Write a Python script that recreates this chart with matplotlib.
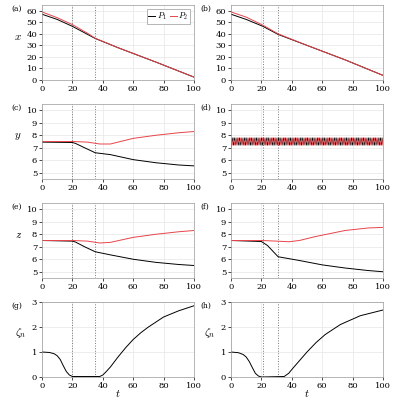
import matplotlib
matplotlib.use("Agg")
import matplotlib.pyplot as plt

plt.rcParams['font.family'] = 'DejaVu Serif'
plt.rcParams['mathtext.fontset'] = 'cm'
plt.rcParams['font.size'] = 6

# Panel (a)
ta = [0, 10, 20, 30, 35, 50, 75, 100]
xa1 = [57, 52.5, 46.5, 39.5, 36, 28, 15.5, 2.5]
xa2 = [59, 54, 48, 40.5, 36.2, 28, 15.5, 2.5]
# Panel (b)
tb = [0, 10, 21, 31, 50, 75, 100]
xb1 = [57, 52.5, 46.5, 39.5, 30, 17.5, 4]
xb2 = [59, 54.5, 47.5, 40, 30, 17.5, 4]
# Panel (c)
tc = [0, 20, 22, 28, 35, 45, 60, 75, 90, 100]
yc1 = [7.45, 7.42, 7.35, 7.0, 6.6, 6.45, 6.05, 5.8, 5.62, 5.55]
tc2 = [0, 20, 30, 38, 45, 60, 75, 90, 100]
yc2 = [7.5, 7.5, 7.45, 7.3, 7.3, 7.75, 8.0, 8.2, 8.3]
# Panel (d): oscillating
td = [i * 0.8 for i in range(126)]
yd1 = [7.0, 7.8, 7.2, 7.8, 7.2, 7.8, 7.2, 7.8, 7.2, 7.8, 7.2, 7.8, 7.2, 7.8, 7.2, 7.8,
       7.2, 7.8, 7.2, 7.8, 7.2, 7.8, 7.2, 7.8, 7.2, 7.8, 7.2, 7.8, 7.2, 7.8, 7.2, 7.8,
       7.2, 7.8, 7.2, 7.8, 7.2, 7.8, 7.2, 7.8, 7.2, 7.8, 7.2, 7.8, 7.2, 7.8, 7.2, 7.8,
       7.2, 7.8, 7.2, 7.8, 7.2, 7.8, 7.2, 7.8, 7.2, 7.8, 7.2, 7.8, 7.2, 7.8, 7.2, 7.8,
       7.2, 7.8, 7.2, 7.8, 7.2, 7.8, 7.2, 7.8, 7.2, 7.8, 7.2, 7.8, 7.2, 7.8, 7.2, 7.8,
       7.2, 7.8, 7.2, 7.8, 7.2, 7.8, 7.2, 7.8, 7.2, 7.8, 7.2, 7.8, 7.2, 7.8, 7.2, 7.8,
       7.2, 7.8, 7.2, 7.8, 7.2, 7.8, 7.2, 7.8, 7.2, 7.8, 7.2, 7.8, 7.2, 7.8, 7.2, 7.8,
       7.2, 7.8, 7.2, 7.8, 7.2, 7.8, 7.2, 7.8, 7.2, 7.8, 7.2, 7.8, 7.2, 7.8]
yd2 = [7.5, 7.2, 7.8, 7.2, 7.8, 7.2, 7.8, 7.2, 7.8, 7.2, 7.8, 7.2, 7.8, 7.2, 7.8, 7.2,
       7.8, 7.2, 7.8, 7.2, 7.8, 7.2, 7.8, 7.2, 7.8, 7.2, 7.8, 7.2, 7.8, 7.2, 7.8, 7.2,
       7.8, 7.2, 7.8, 7.2, 7.8, 7.2, 7.8, 7.2, 7.8, 7.2, 7.8, 7.2, 7.8, 7.2, 7.8, 7.2,
       7.8, 7.2, 7.8, 7.2, 7.8, 7.2, 7.8, 7.2, 7.8, 7.2, 7.8, 7.2, 7.8, 7.2, 7.8, 7.2,
       7.8, 7.2, 7.8, 7.2, 7.8, 7.2, 7.8, 7.2, 7.8, 7.2, 7.8, 7.2, 7.8, 7.2, 7.8, 7.2,
       7.8, 7.2, 7.8, 7.2, 7.8, 7.2, 7.8, 7.2, 7.8, 7.2, 7.8, 7.2, 7.8, 7.2, 7.8, 7.2,
       7.8, 7.2, 7.8, 7.2, 7.8, 7.2, 7.8, 7.2, 7.8, 7.2, 7.8, 7.2, 7.8, 7.2, 7.8, 7.2,
       7.8, 7.2, 7.8, 7.2, 7.8, 7.2, 7.8, 7.2, 7.8, 7.2, 7.8, 7.2, 7.8, 7.2]
# Panel (e)
te = [0, 20, 22, 28, 35, 45, 60, 75, 90, 100]
ye1 = [7.5, 7.45, 7.38, 7.0, 6.6, 6.35, 6.0, 5.75, 5.58, 5.5]
te2 = [0, 20, 30, 38, 45, 60, 75, 90, 100]
ye2 = [7.5, 7.5, 7.45, 7.3, 7.35, 7.75, 8.0, 8.2, 8.3]
# Panel (f)
tf = [0, 20, 24, 31, 45, 60, 75, 90, 100]
yf1 = [7.5, 7.42, 7.1, 6.2, 5.9, 5.55, 5.3, 5.1, 5.0]
tf2 = [0, 20, 30, 38, 45, 55, 65, 75, 90, 100]
yf2 = [7.5, 7.5, 7.45, 7.4, 7.5, 7.8, 8.05, 8.3, 8.5, 8.55]
# Panel (g)
tg = [0, 5, 8, 10, 12, 14, 16, 18, 20, 38, 40, 42, 45, 50, 55, 60, 65, 70, 80, 90, 100]
zg = [1.0, 0.98, 0.93, 0.85, 0.7, 0.45, 0.22, 0.08, 0.02, 0.02, 0.08, 0.2, 0.4, 0.8,
      1.17, 1.5, 1.77, 2.0, 2.4, 2.65, 2.85]
# Panel (h)
th = [0, 5, 8, 10, 12, 14, 16, 18, 20, 35, 38, 40, 45, 50, 56, 62, 72, 85, 100]
zh = [1.0, 0.97, 0.9, 0.8, 0.62, 0.38, 0.15, 0.04, 0.0, 0.02, 0.15, 0.3, 0.65, 1.0,
      1.38, 1.7, 2.1, 2.45, 2.68]

vlines_left = [20, 35]
vlines_right = [21, 31]
RED = '#e8444a'

fig = plt.figure(figsize=(4, 4), dpi=100)
W, H = 400.0, 400.0
lefts = [42, 231]
tops = [5, 104, 203, 302]
aw, ah = 152, 75
axes = {}
labels = 'abcdefgh'
for r in range(4):
    for c in range(2):
        ax = fig.add_axes([lefts[c] / W, 1 - (tops[r] + ah) / H, aw / W, ah / H])
        axes[(r, c)] = ax
        ax.set_xlim(0, 100)
        ax.set_xticks(range(0, 101, 20))
        ax.grid(True, color='#e6e6e6', lw=0.5)
        ax.tick_params(length=2, width=0.5, pad=1.5, labelsize=6)
        for s in ax.spines.values():
            s.set_linewidth(0.5)
            s.set_color('#999999')
        for v in (vlines_left if c == 0 else vlines_right):
            ax.axvline(v, color='#777777', ls=':', lw=0.7)
        ax.text(-0.2, 1.0, '(%s)' % labels[r * 2 + c], transform=ax.transAxes,
                fontsize=5.5, va='top')

lw = 0.7
a = axes[(0, 0)]
a.plot(ta, xa1, 'k', lw=lw, label='$P_1$')
a.plot(ta, xa2, color=RED, lw=lw, label='$P_2$')
a.legend(loc='upper right', ncol=2, fontsize=6, handlelength=0.8, columnspacing=0.4,
         handletextpad=0.2, borderpad=0.2, fancybox=False, edgecolor='#999999',
         framealpha=1).get_frame().set_linewidth(0.5)
b = axes[(0, 1)]
b.plot(tb, xb1, 'k', lw=lw)
b.plot(tb, xb2, color=RED, lw=lw)
for ax in (a, b):
    ax.set_ylim(0, 65)
    ax.set_yticks(range(0, 61, 10))
a.set_ylabel('$x$', fontsize=8, rotation=0, labelpad=6)

c = axes[(1, 0)]
c.plot(tc, yc1, 'k', lw=lw)
c.plot(tc2, yc2, color=RED, lw=lw)
d = axes[(1, 1)]
d.plot(td, yd1, 'k', lw=0.5)
d.plot(td, yd2, color=RED, lw=0.5)
e = axes[(2, 0)]
e.plot(te, ye1, 'k', lw=lw)
e.plot(te2, ye2, color=RED, lw=lw)
f = axes[(2, 1)]
f.plot(tf, yf1, 'k', lw=lw)
f.plot(tf2, yf2, color=RED, lw=lw)
for ax in (c, d, e, f):
    ax.set_ylim(4.5, 10.5)
    ax.set_yticks(range(5, 11))
c.set_ylabel('$y$', fontsize=8, rotation=0, labelpad=6)
e.set_ylabel('$z$', fontsize=8, rotation=0, labelpad=6)

g = axes[(3, 0)]
g.plot(tg, zg, 'k', lw=lw)
h = axes[(3, 1)]
h.plot(th, zh, 'k', lw=lw)
for ax in (g, h):
    ax.set_ylim(0, 3)
    ax.set_yticks(range(0, 4))
    ax.set_xlabel('$t$', fontsize=8, labelpad=-1)
    ax.set_ylabel(r'$\zeta_n$', fontsize=8, rotation=0, labelpad=8)

fig.savefig('out.png', dpi=100)
